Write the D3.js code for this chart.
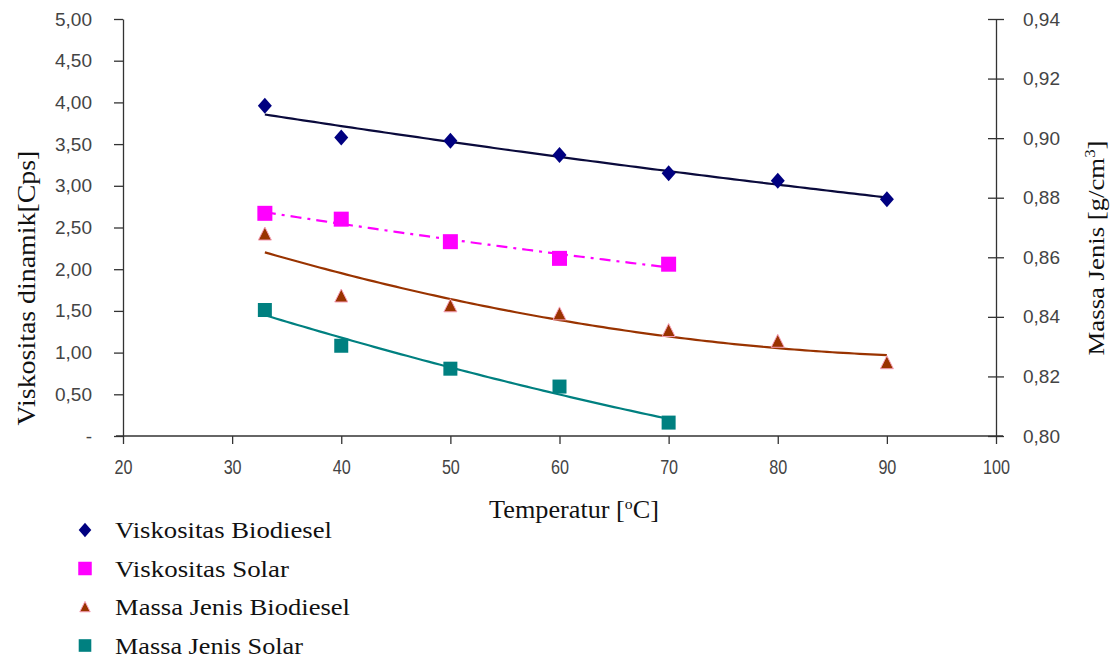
<!DOCTYPE html>
<html><head><meta charset="utf-8">
<script src="https://cdn.jsdelivr.net/npm/d3@7"></script>
<style>body{margin:0;background:#fff}svg{display:block}</style>
</head><body>
<svg id="c" width="1112" height="661"></svg>
<script>
// ---- data ----
const temps = [33, 40, 50, 60, 70, 80, 90];
const tempsSolar = [33, 40, 50, 60, 70];
const viskBiodiesel = [3.96, 3.58, 3.54, 3.37, 3.15, 3.06, 2.84];
const viskSolar = [2.67, 2.60, 2.33, 2.13, 2.06];
const massaBiodiesel = [0.8678, 0.8470, 0.8437, 0.8410, 0.8354, 0.8318, 0.8246];
const massaSolar = [0.8423, 0.8303, 0.8226, 0.8166, 0.8045];
const xTicks = [20, 30, 40, 50, 60, 70, 80, 90, 100];
const yLeftTicks = [0, 0.5, 1, 1.5, 2, 2.5, 3, 3.5, 4, 4.5, 5];
const yRightTicks = [0.80, 0.82, 0.84, 0.86, 0.88, 0.90, 0.92, 0.94];
const legendLabels = ["Viskositas Biodiesel", "Viskositas Solar", "Massa Jenis Biodiesel", "Massa Jenis Solar"];

const svg = d3.select("#c");
const x = d3.scaleLinear().domain([20, 100]).range([123, 996]);
const yL = d3.scaleLinear().domain([0, 5]).range([436, 19]);
const yR = d3.scaleLinear().domain([0.80, 0.94]).range([436, 19]);

const comma = (f) => (d) => d3.format(f)(d).replace(".", ",");
const tickFont = "'Liberation Sans', Arial, sans-serif";
const serif = "'Liberation Serif', 'Times New Roman', serif";

// left axis
const gL = svg.append("g").attr("transform", "translate(123,0)")
  .call(d3.axisLeft(yL).tickValues(yLeftTicks).tickSize(9).tickPadding(22).tickSizeOuter(0)
    .tickFormat(d => d === 0 ? "-" : comma(".2f")(d)));
// right axis
const gR = svg.append("g").attr("transform", "translate(996,0)")
  .call(d3.axisRight(yR).tickValues(yRightTicks).tickSize(8).tickPadding(19).tickSizeOuter(0)
    .tickFormat(comma(".2f")));
gR.selectAll(".tick line").attr("x1", -8).attr("x2", 8);
// bottom axis
const gB = svg.append("g").attr("transform", "translate(0,436)")
  .call(d3.axisBottom(x).tickValues(xTicks).tickSize(8).tickPadding(16).tickSizeOuter(0)
    .tickFormat(d3.format("d")));
gB.select(".domain").attr("d", "M116,0H1003");

[gL, gR, gB].forEach(g => {
  g.selectAll(".domain").attr("stroke", "#333").attr("stroke-width", 1.3);
  g.selectAll(".tick line").attr("stroke", "#333").attr("stroke-width", 1.3);
  g.selectAll(".tick text").attr("fill", "#444").style("font-family", tickFont).style("font-size", "19px");
});
gB.selectAll(".tick text").style("font-size", "20px")
  .attr("textLength", d => d >= 100 ? 27 : 18).attr("lengthAdjust", "spacingAndGlyphs");

// helper: stretch a centred text horizontally to a target width
function fitWidth(sel, base, target) {
  const w = sel.node().getBBox().width;
  sel.attr("transform", base + ` scale(${target / w},1)`);
}

// axis titles
const lt = svg.append("text").attr("text-anchor", "middle").style("font-family", serif)
  .style("font-size", "25px").attr("fill", "#111").text("Viskositas  dinamik[Cps]");
fitWidth(lt, "translate(35,288) rotate(-90)", 275);

const rt = svg.append("text").attr("text-anchor", "middle").style("font-family", serif)
  .style("font-size", "24px").attr("fill", "#111");
rt.append("tspan").text("Massa Jenis [g/cm");
rt.append("tspan").attr("dy", -9).style("font-size", "15px").text("3");
rt.append("tspan").attr("dy", 9).text("]");
fitWidth(rt, "translate(1104,248) rotate(-90)", 215);

const xt = svg.append("text").attr("text-anchor", "middle")
  .style("font-family", serif).style("font-size", "25px").attr("fill", "#111");
xt.append("tspan").text("Temperatur [");
xt.append("tspan").attr("dy", -9).style("font-size", "15px").text("o");
xt.append("tspan").attr("dy", 9).text("C]");
fitWidth(xt, "translate(574,518)", 170);

// ---- fits ----
function expFit(xs, ys) {
  const ly = ys.map(Math.log), mx = d3.mean(xs), my = d3.mean(ly);
  const b = d3.sum(xs, (v, i) => (v - mx) * (ly[i] - my)) / d3.sum(xs, v => (v - mx) ** 2);
  return t => Math.exp(my + b * (t - mx));
}
function quadFit(xs, ys) {
  const n = xs.length;
  const S = k => d3.sum(xs, v => v ** k);
  const T = k => d3.sum(xs, (v, i) => v ** k * ys[i]);
  const A = [[n, S(1), S(2)], [S(1), S(2), S(3)], [S(2), S(3), S(4)]];
  const B = [T(0), T(1), T(2)];
  for (let i = 0; i < 3; i++) {
    for (let j = i + 1; j < 3; j++) {
      const f = A[j][i] / A[i][i];
      for (let k = i; k < 3; k++) A[j][k] -= f * A[i][k];
      B[j] -= f * B[i];
    }
  }
  const c = [0, 0, 0];
  for (let i = 2; i >= 0; i--) {
    let s = B[i];
    for (let k = i + 1; k < 3; k++) s -= A[i][k] * c[k];
    c[i] = s / A[i][i];
  }
  return t => c[0] + c[1] * t + c[2] * t * t;
}
function trend(xs, fn, yScale, color, dash) {
  const pts = d3.range(xs[0], xs[xs.length - 1] + 0.001, 0.5);
  svg.append("path").datum(pts)
    .attr("d", d3.line().x(t => x(t)).y(t => yScale(fn(t))))
    .attr("fill", "none").attr("stroke", color).attr("stroke-width", 2.2)
    .attr("stroke-dasharray", dash || null);
}
trend(temps, expFit(temps, viskBiodiesel), yL, "#0a0a3c");
trend(tempsSolar, expFit(tempsSolar, viskSolar), yL, "#ff00ff", "11,6,3,6");
trend(temps, quadFit(temps, massaBiodiesel), yR, "#993300");
trend(tempsSolar, quadFit(tempsSolar, massaSolar), yR, "#008080");

// ---- markers ----
function drawMarker(g, px, py, kind, s) {
  s = s || 1;
  if (kind === 0) g.append("path").attr("d", `M0,${-8*s}L${7*s},0L0,${8*s}L${-7*s},0Z`)
      .attr("transform", `translate(${px},${py})`).attr("fill", "#000080");
  if (kind === 1) g.append("rect").attr("x", px - 7.5*s).attr("y", py - 7.5*s)
      .attr("width", 15*s).attr("height", 15*s).attr("fill", "#ff00ff");
  if (kind === 2) g.append("path").attr("d", `M0,${-7*s}L${6.5*s},${6*s}L${-6.5*s},${6*s}Z`)
      .attr("transform", `translate(${px},${py})`)
      .attr("fill", "#993300").attr("stroke", "#f7a0b8").attr("stroke-width", 1);
  if (kind === 3) g.append("rect").attr("x", px - 7*s).attr("y", py - 7*s)
      .attr("width", 14*s).attr("height", 14*s).attr("fill", "#008080");
}
function markers(xs, ys, yScale, kind) {
  const g = svg.append("g");
  xs.forEach((t, i) => drawMarker(g, x(t), yScale(ys[i]), kind));
}
markers(temps, viskBiodiesel, yL, 0);
markers(tempsSolar, viskSolar, yL, 1);
markers(temps, massaBiodiesel, yR, 2);
markers(tempsSolar, massaSolar, yR, 3);

// ---- legend ----
const legendWidths = [217, 174, 235, 188];
const lg = svg.append("g");
legendLabels.forEach((lab, i) => {
  const cy = 530 + i * 38.5;
  drawMarker(lg, 85, cy, i, i === 2 ? 0.8 : 0.9);
  lg.append("text").attr("x", 115).attr("y", cy + 8).style("font-family", serif).style("font-size", "24px")
    .attr("fill", "#111").attr("textLength", legendWidths[i]).attr("lengthAdjust", "spacingAndGlyphs")
    .text(lab);
});
</script>
</body></html>
